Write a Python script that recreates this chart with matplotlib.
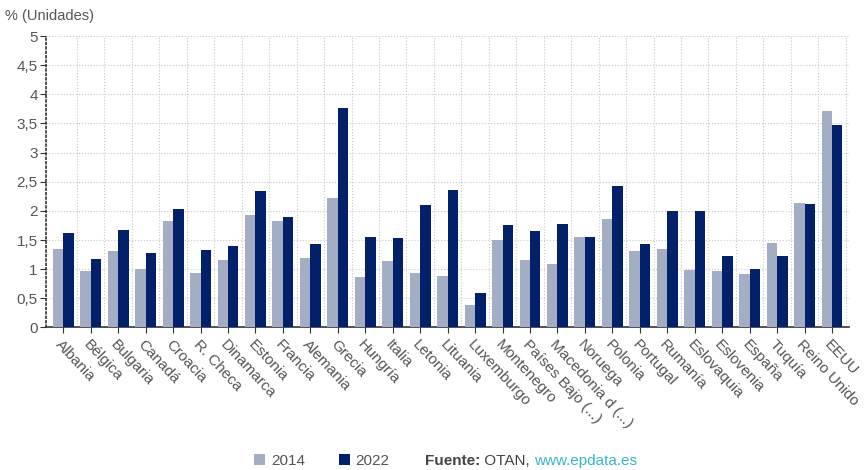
import matplotlib.pyplot as plt
import numpy as np
from matplotlib.ticker import FuncFormatter

plt.rcParams["font.family"] = ["Liberation Sans", "DejaVu Sans"]

paises = ["Albania", "Bélgica", "Bulgaria", "Canadá", "Croacia", "R. Checa", "Dinamarca",
          "Estonia", "Francia", "Alemania", "Grecia", "Hungría", "Italia", "Letonia",
          "Lituania", "Luxemburgo", "Montenegro", "Países Bajo (...)", "Macedonia d (...)",
          "Noruega", "Polonia", "Portugal", "Rumanía", "Eslovaquia", "Eslovenia", "España",
          "Tuquía", "Reino Unido", "EEUU"]
gasto_2014 = [1.35, 0.97, 1.31, 1.01, 1.82, 0.94, 1.15, 1.93, 1.82, 1.20, 2.22, 0.86, 1.14, 0.94,
              0.88, 0.38, 1.50, 1.15, 1.09, 1.55, 1.86, 1.31, 1.35, 0.99, 0.97, 0.92, 1.45, 2.13, 3.72]
gasto_2022 = [1.62, 1.18, 1.67, 1.27, 2.03, 1.33, 1.39, 2.34, 1.90, 1.44, 3.76, 1.55, 1.54, 2.10,
              2.36, 0.59, 1.75, 1.65, 1.78, 1.55, 2.42, 1.44, 1.99, 2.00, 1.22, 1.01, 1.22, 2.12, 3.47]
y_ticks = [0, 0.5, 1, 1.5, 2, 2.5, 3, 3.5, 4, 4.5, 5]

color_2014 = "#a3adc3"
color_2022 = "#03216a"

fig = plt.figure(figsize=(8.65, 4.70), dpi=100)
ax = fig.add_axes([0.0532, 0.3032, 0.9283, 0.6202])

x = np.arange(len(paises))
w = 0.38
ax.bar(x - w / 2, gasto_2014, width=w, color=color_2014, zorder=3, label="2014")
ax.bar(x + w / 2, gasto_2022, width=w, color=color_2022, zorder=3, label="2022")

ax.set_xlim(-0.63, len(paises) - 0.38)
ax.set_ylim(0, 5)
ax.set_yticks(y_ticks)
ax.yaxis.set_major_formatter(FuncFormatter(lambda v, p: f"{v:g}".replace(".", ",")))

# grid: horizontal at ticks, vertical at category boundaries
for yv in y_ticks[1:]:
    ax.axhline(yv, color="#c8c8c8", lw=0.8, ls=":", zorder=1)
for xv in x + 0.5:
    ax.axvline(xv, color="#c8c8c8", lw=0.8, ls=":", zorder=1)

ax.set_xticks(x)
ax.set_xticklabels(paises, rotation=-47, ha="left", va="top", rotation_mode="anchor",
                   fontsize=11, color="#555555")
ax.tick_params(axis="x", length=4, width=0.8, color="#333333", pad=3)
ax.tick_params(axis="y", length=4, width=0.8, color="#333333", labelsize=11, labelcolor="#555555", pad=2)

for s in ["top", "right"]:
    ax.spines[s].set_visible(False)
ax.spines["left"].set_linestyle(":")
ax.spines["left"].set_linewidth(1.2)
ax.spines["left"].set_color("#333333")
ax.spines["bottom"].set_color("#333333")
ax.spines["bottom"].set_linewidth(1.2)

fig.text(5 / 865, 1 - 16 / 470, "% (Unidades)", fontsize=10.5, color="#555555", va="center", ha="left")

leg = fig.legend(loc="center", bbox_to_anchor=(322 / 865, 1 - 461 / 470), ncol=2, frameon=False,
                 fontsize=11, handlelength=0.7, handleheight=0.7, handletextpad=0.4, columnspacing=2.2)
for t in leg.get_texts():
    t.set_color("#555555")

t1 = fig.text(425 / 865, 1 - 461 / 470, "Fuente:", fontsize=11, fontweight="bold", color="#444444",
              va="center", ha="left")
t2 = ax.annotate(" OTAN, ", xy=(1, 0.5), xycoords=t1, va="center", ha="left", fontsize=11, color="#444444")
ax.annotate("www.epdata.es", xy=(1, 0.5), xycoords=t2, va="center", ha="left", fontsize=11, color="#3ab4cc")

fig.savefig("out.png", dpi=100)
